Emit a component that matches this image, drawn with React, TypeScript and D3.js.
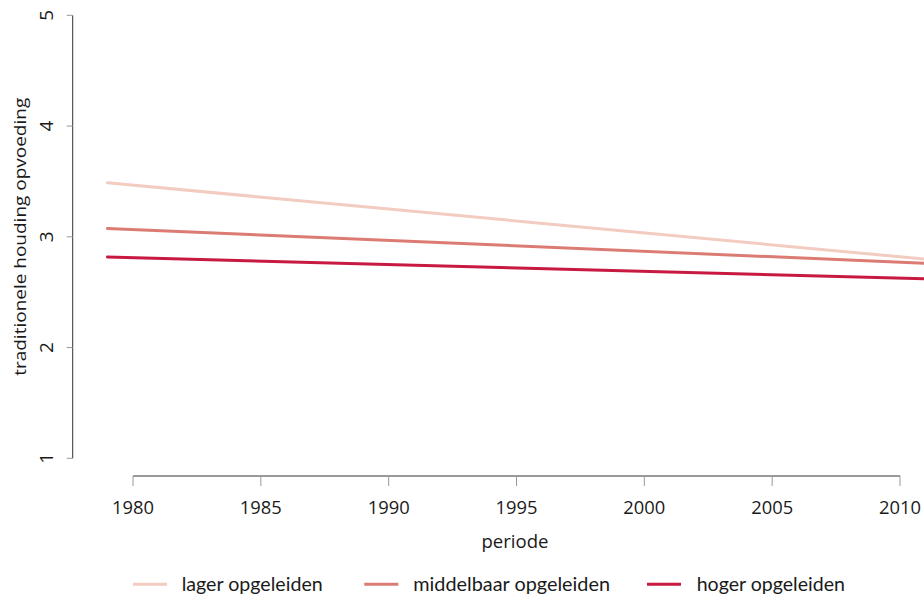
import React from "react";
import * as d3 from "d3";

const years: number[] = [1979, 2011];
const seriesNames: string[] = ["lager opgeleiden", "middelbaar opgeleiden", "hoger opgeleiden"];
const lagerValues: number[] = [3.488, 2.798];
const middelbaarValues: number[] = [3.075, 2.761];
const hogerValues: number[] = [2.817, 2.62];
const xTicks: number[] = [1980, 1985, 1990, 1995, 2000, 2005, 2010];
const yTicks: number[] = [1, 2, 3, 4, 5];
const colors: string[] = ["#f2cbc1", "#db7b73", "#c81a40"];

const W = 924;
const H = 594;

export default function App() {
  const x = d3.scaleLinear().domain([1980, 2010]).range([133, 900]);
  const y = d3.scaleLinear().domain([1, 5]).range([458.3, 15.3]);
  const allSeries = [lagerValues, middelbaarValues, hogerValues];
  const line = d3
    .line<[number, number]>()
    .x((d) => x(d[0]))
    .y((d) => y(d[1]));

  const tickFont = "'Open Sans', sans-serif";
  const textColor = "#1a1a1a";
  const axisY = 476;
  const axisX = 72.7;

  const legendItems = [
    { lx: 133, tx: 181.7, tw: 141 },
    { lx: 364.3, tx: 413.3, tw: 196.7 },
    { lx: 647, tx: 696.7, tw: 148.3 },
  ];

  return (
    <svg
      width={W}
      height={H}
      style={{ position: "absolute", left: 0, top: 0, background: "#fff" }}
    >
      <defs>
        <clipPath id="plotclip">
          <rect x={0} y={0} width={W} height={H} />
        </clipPath>
      </defs>
      {/* y axis */}
      <line x1={axisX} x2={axisX} y1={y(1)} y2={y(5)} stroke="#333" strokeWidth={1} />
      {yTicks.map((t) => (
        <g key={"yt" + t}>
          <line x1={axisX - 6} x2={axisX} y1={y(t)} y2={y(t)} stroke="#999" strokeWidth={1} />
          <text
            transform={`translate(53,${y(t)}) rotate(-90)`}
            textAnchor="middle"
            fontFamily={tickFont}
            fontSize={19}
            fill={textColor}
          >
            {t}
          </text>
        </g>
      ))}
      <text
        transform={`translate(26,${(y(1) + y(5)) / 2}) rotate(-90)`}
        textAnchor="middle"
        fontFamily={tickFont}
        fontSize={17}
        fill={textColor}
        textLength={278}
        lengthAdjust="spacingAndGlyphs"
      >
        traditionele houding opvoeding
      </text>

      {/* x axis */}
      <line x1={x(1980)} x2={x(2010)} y1={axisY} y2={axisY} stroke="#333" strokeWidth={1} />
      {xTicks.map((t) => (
        <g key={"xt" + t}>
          <line x1={x(t)} x2={x(t)} y1={axisY} y2={axisY + 10} stroke="#999" strokeWidth={1} />
          <text
            x={x(t)}
            y={514}
            textAnchor="middle"
            fontFamily={tickFont}
            fontSize={19}
            fill={textColor}
            textLength={42}
            lengthAdjust="spacingAndGlyphs"
          >
            {t}
          </text>
        </g>
      ))}
      <text
        x={515}
        y={548}
        textAnchor="middle"
        fontFamily={tickFont}
        fontSize={18}
        fill={textColor}
        textLength={67}
        lengthAdjust="spacingAndGlyphs"
      >
        periode
      </text>

      {/* lines */}
      <g clipPath="url(#plotclip)">
        {allSeries.map((vals, i) => (
          <path
            key={"s" + i}
            d={line(years.map((yr, j) => [yr, vals[j]] as [number, number])) || ""}
            fill="none"
            stroke={colors[i]}
            strokeWidth={3}
            strokeLinecap="round"
          />
        ))}
      </g>

      {/* legend */}
      {seriesNames.map((name, i) => (
        <g key={"lg" + i}>
          <line
            x1={legendItems[i].lx}
            x2={legendItems[i].lx + 34}
            y1={584.3}
            y2={584.3}
            stroke={colors[i]}
            strokeWidth={3}
          />
          <text
            x={legendItems[i].tx}
            y={591}
            fontFamily="Lato, sans-serif"
            fontSize={19}
            fill={textColor}
            textLength={legendItems[i].tw}
            lengthAdjust="spacingAndGlyphs"
          >
            {name}
          </text>
        </g>
      ))}
    </svg>
  );
}
